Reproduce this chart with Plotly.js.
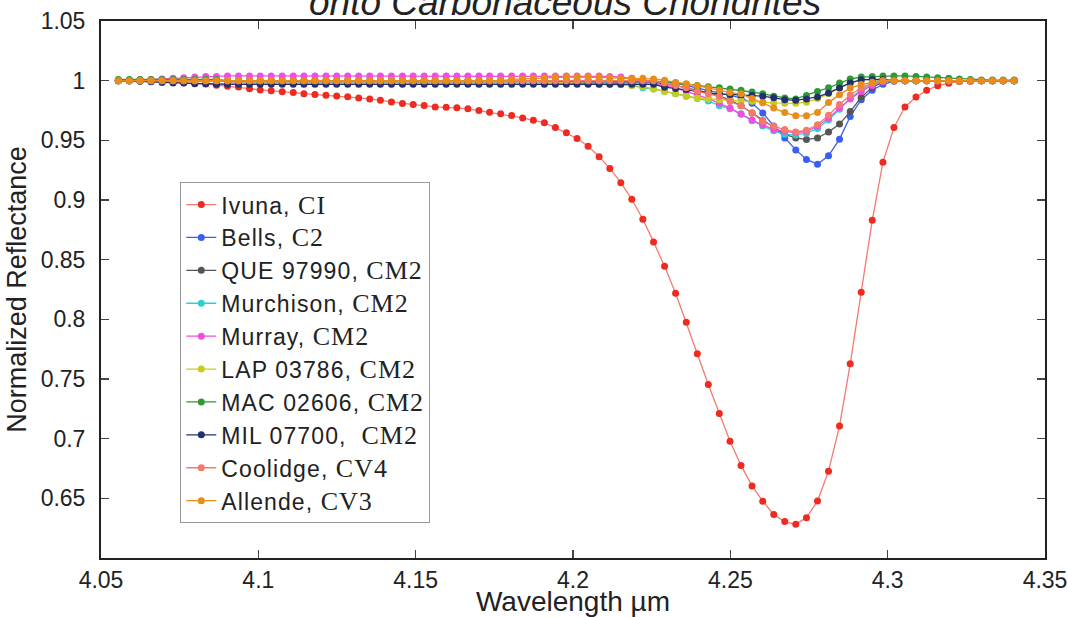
<!DOCTYPE html>
<html>
<head>
<meta charset="utf-8">
<script src="https://cdn.plot.ly/plotly-3.0.1.min.js"></script>
<style>html,body{margin:0;padding:0;background:#fff;}#chart{width:1068px;height:617px;}</style>
</head>
<body>
<div id="chart"></div>
<script>
// Wavelength grid (µm)
const wavelength = [
4.0555,4.0590,4.0624,4.0659,4.0694,4.0729,4.0763,4.0798,4.0833,4.0867,
4.0902,4.0937,4.0972,4.1006,4.1041,4.1076,4.1111,4.1145,4.1180,4.1215,
4.1249,4.1284,4.1319,4.1354,4.1388,4.1423,4.1458,4.1492,4.1527,4.1562,
4.1597,4.1631,4.1666,4.1701,4.1735,4.1770,4.1805,4.1840,4.1874,4.1909,
4.1944,4.1979,4.2013,4.2048,4.2083,4.2117,4.2152,4.2187,4.2222,4.2256,
4.2291,4.2326,4.2360,4.2395,4.2430,4.2465,4.2499,4.2534,4.2569,4.2603,
4.2638,4.2673,4.2708,4.2742,4.2777,4.2812,4.2847,4.2881,4.2916,4.2951,
4.2985,4.3020,4.3055,4.3090,4.3124,4.3159,4.3194,4.3228,4.3263,4.3298,
4.3333,4.3367,4.3402];

const ivuna = [
1.000,1.000,0.9997,0.9994,0.9992,0.9987,0.9983,0.9979,0.9972,0.9962,
0.9954,0.9946,0.9933,0.9922,0.9916,0.9908,0.9900,0.9891,0.9885,0.9877,
0.9871,0.9866,0.9855,0.9847,0.9835,0.9822,0.9808,0.9800,0.9791,0.9780,
0.9777,0.9772,0.9764,0.9749,0.9735,0.9722,0.9708,0.9688,0.9668,0.9647,
0.9607,0.9563,0.9515,0.9451,0.9363,0.9265,0.9145,0.9006,0.8839,0.8649,
0.8444,0.8218,0.7976,0.7711,0.7454,0.7210,0.6979,0.6776,0.6604,0.6476,
0.6364,0.6305,0.6282,0.6338,0.6477,0.6728,0.7107,0.7627,0.8226,0.8830,
0.9317,0.9607,0.9780,0.9864,0.9919,0.9958,0.9979,0.9992,0.9996,1.000,
1.000,1.000,1.000];

const bells = [
1,1,1,1,1,1,1,1,1,1,
1,1,1,1,1,1,1,1,1,1,
1,1,1,1,1,1,1,1,1,1,
1,1,1,1,1,1,1,1,1,1,
0.9995,0.9995,0.9995,0.999,0.999,0.999,0.999,0.999,0.999,0.999,
0.999,0.998,0.996,0.994,0.992,0.990,0.988,0.9855,0.981,0.973,
0.962,0.952,0.942,0.934,0.930,0.937,0.951,0.970,0.984,0.992,
0.997,0.9995,1,1,1,1,1,1,1,1,
1,1,1];

const que97990 = [
1,1,1,1,1,1,1,1,1,1,
0.999,0.999,0.999,0.999,0.999,0.999,0.999,0.999,0.999,0.999,
0.999,0.999,0.999,0.999,0.999,0.999,0.999,0.999,0.999,0.999,
0.999,0.999,0.999,0.999,0.999,0.999,0.999,0.999,0.999,0.999,
0.999,0.999,0.999,0.999,0.999,0.999,0.999,0.999,0.999,0.999,
0.997,0.996,0.994,0.992,0.990,0.987,0.984,0.979,0.973,0.9665,
0.9607,0.955,0.952,0.9506,0.952,0.957,0.9636,0.9741,0.986,0.9944,
0.999,1,1,1,1,1,1,1,1,1,
1,1,1];

const murchison = [
1,1,1,1,1,1,1,1,1,1,
1,1,1,1,1,1,1,1,1,1,
1,1,1,1,1,1,1,1,1,1,
1,1,1,1,1,1,1,1,1,1,
1,1,1,1,1,0.998,0.997,0.996,0.994,0.993,
0.991,0.989,0.987,0.985,0.983,0.979,0.9765,0.972,0.9665,0.962,
0.958,0.955,0.9545,0.956,0.960,0.967,0.976,0.985,0.9925,0.997,
1,1,1,1,1,1,1,1,1,1,
1,1,1];

const murray = [
1,1,1.0005,1.001,1.0015,1.002,1.0025,1.003,1.0035,1.0035,
1.004,1.004,1.004,1.004,1.004,1.004,1.004,1.004,1.004,1.004,
1.004,1.004,1.004,1.004,1.004,1.004,1.004,1.004,1.004,1.004,
1.004,1.004,1.004,1.004,1.004,1.004,1.004,1.004,1.004,1.004,
1.004,1.004,1.004,1.004,1.004,1.0035,1.003,1.002,1.0,0.998,
0.996,0.994,0.991,0.988,0.985,0.981,0.977,0.972,0.967,0.963,
0.959,0.9576,0.9563,0.9576,0.9618,0.9688,0.9772,0.9847,0.991,0.996,
0.999,1.0005,1,1,1,1,1,1,1,1,
1,1,1];

const lap03786 = [
1,1,1,1,1,1,1,1,1,1,
1,1,1,1,1,1,1,1,1,1,
1,1,1,1,1,1,1,1,1,1,
1,1,1,1,1,1,1,1,0.9995,0.999,
0.9985,0.998,0.9978,0.9975,0.997,0.9968,0.9965,0.996,0.995,0.993,
0.991,0.989,0.987,0.9855,0.9847,0.984,0.9835,0.983,0.9827,0.982,
0.9814,0.981,0.981,0.982,0.985,0.989,0.994,0.998,1.0005,1.001,
1,1,1,1,1,1,1,1,1,1,
1,1,1];

const mac02606 = [
1.001,1.001,1.001,1.001,1.001,1.001,1.001,1.001,1.001,1.001,
1,1,1,1,1,1,1,1,1,1,
1,1,1,1,1,1,1,1,1,1,
1,1,1,1,1,1,1,1,1,1,
1,1,1,1,1,1,1,1,1,1,
0.9985,0.998,0.997,0.996,0.995,0.994,0.993,0.992,0.9905,0.989,
0.987,0.9855,0.9847,0.9875,0.991,0.994,0.998,1.0014,1.003,1.0035,
1.004,1.004,1.004,1.0035,1.003,1.0025,1.002,1.0015,1.001,1.0005,
1.0005,1.0005,1.0005];

const mil07700 = [
1,1,0.9995,0.999,0.9985,0.998,0.998,0.9975,0.9975,0.997,
0.997,0.997,0.997,0.997,0.997,0.997,0.997,0.997,0.997,0.997,
0.997,0.997,0.997,0.997,0.997,0.997,0.997,0.997,0.997,0.997,
0.997,0.997,0.997,0.997,0.997,0.997,0.997,0.997,0.997,0.997,
0.997,0.997,0.997,0.997,0.997,0.997,0.997,0.997,0.997,0.997,
0.9945,0.9935,0.9925,0.991,0.9898,0.9888,0.9885,0.9883,0.9875,0.987,
0.9856,0.9841,0.9835,0.9847,0.9864,0.9897,0.9939,0.9981,1.0008,1.001,
1.001,1,1,1,1,1,1,1,1,1,
1,1,1];

const coolidge = [
1,1,1,1,1,1,1,1,1,1,
1,1,1,1,1,1,1,1,1,1,
1,1,1,1,1,1,1,1,1,1,
1,1,1,1,1,1,1,1,1,1,
1,1,1,1,1,1,1,1,1,1,
0.998,0.996,0.994,0.991,0.989,0.9869,0.9825,0.979,0.9729,0.9659,
0.9617,0.959,0.957,0.9585,0.963,0.971,0.980,0.988,0.994,0.998,
1,1,1,1,1,1,1,1,1,1,
1,1,1];

const allende = [
1,1,1,1,1,1,1,1,1,1,
1,1,1,1,1,1,1,1,1,1,
1,1,1,1,1,1,1,1,1,1,
1,1,1,1,1,1,1.001,1.0015,1.002,1.0025,
1.003,1.003,1.003,1.003,1.003,1.0025,1.002,1.002,1.002,1.0015,
1.0003,0.9985,0.9975,0.9958,0.994,0.992,0.990,0.989,0.985,0.9815,
0.977,0.9733,0.9705,0.9705,0.9733,0.9816,0.9883,0.9939,0.9967,0.9986,
1,1,1,1,1,1,1,1,1,1,
1,1,1];

const sampleNames = ['Ivuna, ','Bells, ','QUE 97990, ','Murchison, ','Murray, ','LAP 03786, ','MAC 02606, ','MIL 07700,  ','Coolidge, ','Allende, '];
const sampleTypes = ['CI','C2','CM2','CM2','CM2','CM2','CM2','CM2','CV4','CV3'];
const seriesValues = [ivuna,bells,que97990,murchison,murray,lap03786,mac02606,mil07700,coolidge,allende];
const markerColors = ['#ee2b20','#3a5ff0','#555555','#2ecfcf','#ee4fe0','#c9cc1e','#2f9a35','#24306e','#f47a6c','#e98c1a'];
const lineColors   = ['#f47a70','#3a5ff0','#555555','#2ecfcf','#ee4fe0','#c9cc1e','#2f9a35','#24306e','#f47a6c','#e98c1a'];

const xTickVals = [4.05,4.1,4.15,4.2,4.25,4.3,4.35];
const yTickVals = [0.65,0.7,0.75,0.8,0.85,0.9,0.95,1,1.05];

const traces = seriesValues.map((vals,k)=>({
  x: wavelength,
  y: vals,
  type: 'scatter',
  mode: 'lines+markers',
  name: '<span style="letter-spacing:1.1px">' + sampleNames[k] + '</span>' +
        '<span style="font-family:Liberation Serif;font-size:26px;letter-spacing:1px">' + sampleTypes[k] + '</span>',
  legendgroup: 'g'+k,
  line: {color: lineColors[k], width: 1.3},
  marker: {color: markerColors[k], size: 7, line: {width: 0}}
}));

const sans = 'Liberation Sans, Arial, sans-serif';
const layout = {
  width: 1068, height: 617,
  margin: {l:101, r:23, t:21, b:59, pad:0},
  paper_bgcolor: '#fff', plot_bgcolor: '#fff',
  showlegend: true,
  legend: {
    x: 0.084, y: 0.70, xanchor: 'left', yanchor: 'top',
    bgcolor: '#fff', bordercolor: '#999', borderwidth: 1,
    font: {family: sans, size: 23, color: '#222'},
    tracegroupgap: 0, itemwidth: 30
  },
  xaxis: {
    range: [4.05, 4.35], tickvals: xTickVals, ticktext: xTickVals.map(String),
    ticks: 'inside', ticklen: 8, tickwidth: 1.5, tickcolor: '#444',
    showline: true, linecolor: '#222', linewidth: 2, mirror: 'ticks',
    showgrid: false, zeroline: false,
    tickfont: {family: sans, size: 23, color: '#222'},
    title: {text: 'Wavelength µm', font: {family: sans, size: 28, color: '#222'}, standoff: 7}
  },
  yaxis: {
    range: [0.6, 1.05], tickvals: yTickVals, ticktext: yTickVals.map(String),
    ticks: 'inside', ticklen: 8, tickwidth: 1.5, tickcolor: '#444',
    showline: true, linecolor: '#222', linewidth: 2, mirror: 'ticks',
    showgrid: false, zeroline: false, ticklabelstandoff: 9,
    tickfont: {family: sans, size: 23, color: '#222'},
    title: {text: 'Normalized Reflectance', font: {family: sans, size: 27, color: '#222'}, standoff: 6}
  },
  annotations: [{
    text: '<i>onto Carbonaceous Chondrites</i>',
    xref: 'paper', yref: 'paper', x: 0.4915, y: 0.993,
    xanchor: 'center', yanchor: 'bottom', showarrow: false,
    font: {family: sans, size: 37, color: '#222'}
  }]
};

Plotly.newPlot('chart', traces, layout, {displayModeBar: false, staticPlot: true});
</script>
</body>
</html>
